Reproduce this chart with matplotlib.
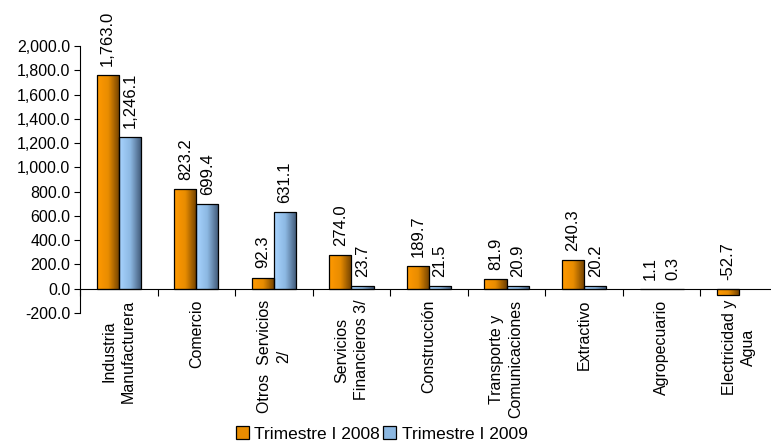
import numpy as np
import matplotlib
matplotlib.use("Agg")
import matplotlib.pyplot as plt
from matplotlib.colors import LinearSegmentedColormap
from matplotlib.patches import Patch

plt.rcParams['font.family'] = ['Liberation Sans', 'DejaVu Sans']

categories = ["Industria\nManufacturera", "Comercio", "Otros  Servicios\n2/",
              "Servicios\nFinancieros 3/", "Construcción", "Transporte y\nComunicaciones",
              "Extractivo", "Agropecuario", "Electricidad y\nAgua"]
q1_2008 = [1763.0, 823.2, 92.3, 274.0, 189.7, 81.9, 240.3, 1.1, -52.7]
q1_2009 = [1246.1, 699.4, 631.1, 23.7, 21.5, 20.9, 20.2, 0.3, None]
series_names = ["Trimestre I 2008", "Trimestre I 2009"]

orange_cmap = LinearSegmentedColormap.from_list("o", ["#FF9900", "#E88C00", "#6E3F00"])
blue_cmap = LinearSegmentedColormap.from_list("b", ["#A8D4FF", "#8CB8E2", "#3E5674"])

fig = plt.figure(figsize=(7.71, 4.46), dpi=100)
ax = fig.add_axes([80 / 771, 1 - 313 / 446, 698 / 771, 267 / 446])

x = np.arange(len(categories))
w = 0.285
grad = np.linspace(0, 1, 64).reshape(1, -1)


def shade(bars, cmap):
    for b in bars:
        x0, y0 = b.get_x(), b.get_y()
        bw, bh = b.get_width(), b.get_height()
        if bh == 0:
            continue
        im = ax.imshow(grad, extent=[x0, x0 + bw, min(y0, y0 + bh), max(y0, y0 + bh)],
                       aspect='auto', cmap=cmap, zorder=2, interpolation='bicubic')
        im.set_clip_path(b)


v08 = [v if v is not None else 0 for v in q1_2008]
v09 = [v if v is not None else 0 for v in q1_2009]
b1 = ax.bar(x - w / 2, v08, w, facecolor='none', edgecolor='black', linewidth=0.9, zorder=3)
b2 = ax.bar(x + w / 2, v09, w, facecolor='none', edgecolor='black', linewidth=0.9, zorder=3)
for i, v in enumerate(q1_2009):
    if v is None:
        b2[i].set_visible(False)
shade([b for b in b1 if b.get_visible()], orange_cmap)
shade([b for b in b2 if b.get_visible()], blue_cmap)

for xs, vals in [(x - w / 2, q1_2008), (x + w / 2, q1_2009)]:
    for xi, v in zip(xs, vals):
        if v is None:
            continue
        ax.annotate(f"{v:,.1f}", (xi, max(v, 0)), xytext=(0, 6.5), textcoords='offset points',
                    rotation=90, ha='center', va='bottom', fontsize=12)

ax.set_xlim(-0.5, len(categories) - 0.5)
ax.set_ylim(-200, 2000)
ax.set_yticks(np.arange(-200, 2001, 200))
ax.set_yticklabels([f"{t:,.1f}" for t in np.arange(-200, 2001, 200)], fontsize=11.5)
ax.tick_params(axis='y', direction='out', length=4, width=0.8, pad=3)

ax.spines['bottom'].set_position(('data', 0))
ax.spines['top'].set_visible(False)
ax.spines['right'].set_visible(False)
ax.spines['left'].set_linewidth(0.8)
ax.spines['bottom'].set_linewidth(0.8)

ax.set_xticks(x)
ax.set_xticklabels(categories, rotation=90, fontsize=11.5, ha='center', va='top',
                   multialignment='center', linespacing=1.35)
ax.tick_params(axis='x', which='major', length=0, pad=8)
ax.set_xticks(np.arange(-0.5, len(categories), 1), minor=True)
ax.tick_params(axis='x', which='minor', direction='out', length=5, width=0.8)

handles = [Patch(facecolor='#E88C00', edgecolor='black', linewidth=0.9),
           Patch(facecolor='#8CB8E2', edgecolor='black', linewidth=0.9)]
fig.legend(handles, series_names, loc='lower center', bbox_to_anchor=(0.495, -0.025), ncol=2,
           frameon=False, fontsize=12.5, handlelength=0.75, handleheight=0.75,
           handletextpad=0.3, columnspacing=0.2)

fig.savefig("out.png", dpi=100)
